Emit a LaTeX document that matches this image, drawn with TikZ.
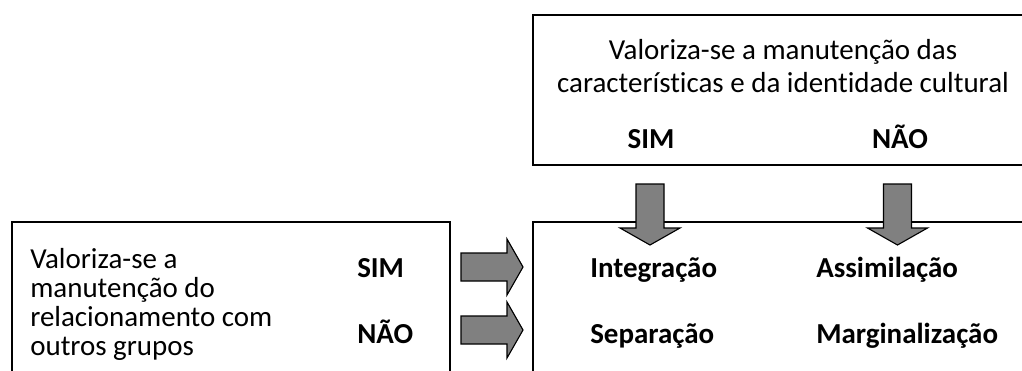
\documentclass[tikz,border=0pt]{standalone}
\usepackage{fontspec}
\setmainfont{Carlito}[Ligatures=NoCommon]
\usepackage{xcolor}
\usetikzlibrary{calc}
\definecolor{cinzaSeta}{RGB}{128,128,128}
\tikzset{
	caixa/.style={draw,line width=1.4pt,inner sep=0pt},
	texto/.style={inner sep=0pt,font=\fontsize{20.6}{24}\selectfont},
	rotulo/.style={texto,font=\fontsize{20.6}{24}\selectfont\bfseries},
	seta/.style={draw=black,fill=cinzaSeta,line width=0.8pt,line join=miter}
}

\begin{document}
\begin{tikzpicture}[x=0.025cm,y=-0.025cm]
	\useasboundingbox (0,0) rectangle (1022,370);
	\clip (0,0) rectangle (1022,370);
	% caixas
	\node[caixa,minimum width=12.675cm,minimum height=3.75cm] (cultura) at (786.5,90) {};
	\node[caixa,minimum width=12.675cm,minimum height=4.2cm] (estrategias) at (786.5,306) {};
	\node[caixa,minimum width=10.95cm,minimum height=4.2cm] (relacao) at (231,306) {};
	% textos da caixa de cima
	\node[texto,anchor=base] (cult1) at (783,59) {Valoriza-se a manutenção das};
	\node[texto,anchor=base] (cult2) at (783,92) {características e da identidade cultural};
	\node[rotulo,anchor=base] (culSim) at (651,148) {SIM};
	\node[rotulo,anchor=base] (culNao) at (900,148) {NÃO};
	% textos da caixa da esquerda
	\node[texto,anchor=base west] (rel1) at (30,268) {Valoriza-se a};
	\node[texto,anchor=base west] (rel2) at (30,297) {manutenção do};
	\node[texto,anchor=base west] (rel3) at (30,326) {relacionamento com};
	\node[texto,anchor=base west] (rel4) at (30,355) {outros grupos};
	\node[rotulo,anchor=base west] (relSim) at (357,277) {SIM};
	\node[rotulo,anchor=base west] (relNao) at (357,343) {NÃO};
	% resultados
	\node[rotulo,anchor=base west] (integ) at (590,277) {Integração};
	\node[rotulo,anchor=base west] (assim) at (816,277) {Assimilação};
	\node[rotulo,anchor=base west] (separ) at (590,343) {Separação};
	\node[rotulo,anchor=base west] (margi) at (816,343) {Marginalização};
	% setas
	\coordinate (setaSim) at (636,184);
	\coordinate (setaNao) at (883.5,184);
	\coordinate (setaRelSim) at (461,253);
	\coordinate (setaRelNao) at (461,316);
	\draw[seta] (setaSim) -- ++(28,0) -- ++(0,44) -- ++(16,0) -- ++(-30,17) -- ++(-30,-17) -- ++(16,0) -- cycle;
	\draw[seta] (setaNao) -- ++(28,0) -- ++(0,44) -- ++(16,0) -- ++(-30,17) -- ++(-30,-17) -- ++(16,0) -- cycle;
	\draw[seta] (setaRelSim) -- ++(46,0) -- ++(0,-14) -- ++(16,28) -- ++(-16,28) -- ++(0,-14) -- ++(-46,0) -- cycle;
	\draw[seta] (setaRelNao) -- ++(46,0) -- ++(0,-14) -- ++(16,28) -- ++(-16,28) -- ++(0,-14) -- ++(-46,0) -- cycle;
\end{tikzpicture}
\end{document}
